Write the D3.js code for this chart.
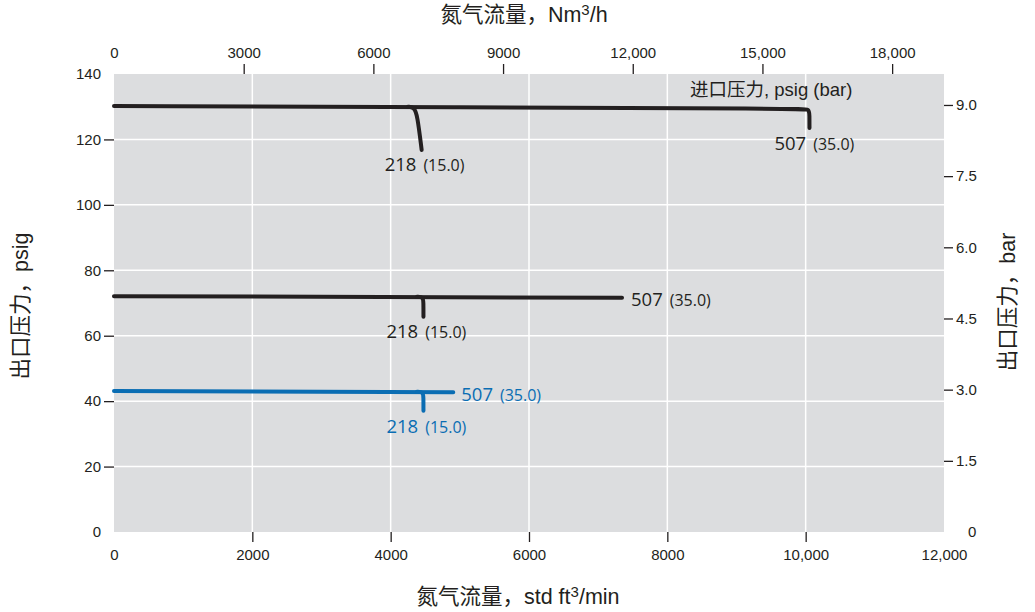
<!DOCTYPE html>
<html><head><meta charset="utf-8">
<script src="https://cdn.jsdelivr.net/npm/d3@7"></script>
<style>
body{margin:0;background:#fff;}
svg{display:block;}
.tick text{font-family:"Liberation Sans",Arial,sans-serif;font-size:15px;fill:#231f20;}
</style></head>
<body>
<svg id="chart" width="1035" height="612"></svg>
<script>
// ---------- data ----------
const xTicksScfm = [0, 2000, 4000, 6000, 8000, 10000, 12000];
const xTicksNm3h = [0, 3000, 6000, 9000, 12000, 15000, 18000];
const yTicksPsig = [0, 20, 40, 60, 80, 100, 120, 140];
const yTicksBar = [0, 1.5, 3.0, 4.5, 6.0, 7.5, 9.0];
const inletPsig = ["218", "507"];
const inletBar = ["(15.0)", "(35.0)"];

// outlet 130 psig setting
const main130 = [[0, 130.2], [5000, 129.9], [9930, 129.35], [10050, 129.3], [10055, 127.5], [10055, 123.5]];
const branch130 = [[4250, 130], [4340, 129.8], [4385, 127.5], [4448, 116.8]];
// outlet 72 psig setting
const main72 = [[0, 72.1], [7345, 71.6]];
const branch72 = [[4380, 71.9], [4468, 71.85], [4474, 70.2], [4474, 65.8]];
// outlet 43 psig setting
const main43 = [[0, 43.1], [4905, 42.75]];
const branch43 = [[4380, 42.85], [4468, 42.8], [4474, 41.3], [4474, 37.1]];

const scfmPerNm3h = 0.625;   // top axis conversion
const psigPerBar = 14.5038;  // right axis conversion

// ---------- layout ----------
const W = 1035, H = 612;
const L = 114, R = 944, T = 74, B = 532;
const black = "#231f20", blue = "#0a6db3", bg = "#dcdddf";

const svg = d3.select("#chart");
const x = d3.scaleLinear().domain([0, 12000]).range([L, R]);
const xTop = d3.scaleLinear().domain([0, 12000 / scfmPerNm3h]).range([L, R]);
const y = d3.scaleLinear().domain([0, 140]).range([B, T]);
const yBar = d3.scaleLinear().domain([0, 140 / psigPerBar]).range([B, T]);

svg.append("rect").attr("x", L).attr("y", T).attr("width", R - L).attr("height", B - T).attr("fill", bg);

// grid
svg.append("g").selectAll("line").data(xTicksScfm.slice(1, -1)).join("line")
  .attr("x1", d => x(d)).attr("x2", d => x(d)).attr("y1", T).attr("y2", B)
  .attr("stroke", "#fff").attr("stroke-width", 1.5);
svg.append("g").selectAll("line").data(yTicksPsig.slice(1, -1)).join("line")
  .attr("y1", d => y(d)).attr("y2", d => y(d)).attr("x1", L).attr("x2", R)
  .attr("stroke", "#fff").attr("stroke-width", 1.5);

const fmt = v => v >= 10000 ? d3.format(",")(v) : String(v);

function styleAxis(g, edgeVals) {
  g.select(".domain").remove();
  g.selectAll(".tick line").attr("stroke", black).attr("stroke-width", 1.3)
    .attr("opacity", d => edgeVals.includes(d) ? 0 : 1);
}

svg.append("g").attr("transform", `translate(0,${B})`)
  .call(d3.axisBottom(x).tickValues(xTicksScfm).tickFormat(fmt).tickSize(10).tickPadding(7))
  .call(g => styleAxis(g, [0, 12000]));
svg.append("g").attr("transform", `translate(0,${T})`)
  .call(d3.axisTop(xTop).tickValues(xTicksNm3h).tickFormat(fmt).tickSize(10).tickPadding(6))
  .call(g => styleAxis(g, [0]));
svg.append("g").attr("transform", `translate(${L},0)`)
  .call(d3.axisLeft(y).tickValues(yTicksPsig).tickSize(10).tickPadding(3))
  .call(g => styleAxis(g, [0, 140]));
svg.append("g").attr("transform", `translate(${R},0)`)
  .call(d3.axisRight(yBar).tickValues(yTicksBar).tickFormat(d => d === 0 ? "0" : d3.format(".1f")(d)).tickSize(9).tickPadding(3))
  .call(g => styleAxis(g, [0]))
  .call(g => g.selectAll(".tick text").attr("dx", d => d === 0 ? 12 : 0));

// curves
const line = d3.line().x(d => x(d[0])).y(d => y(d[1])).curve(d3.curveBasis);
const series = [
  {main: main130, branch: branch130, color: black},
  {main: main72, branch: branch72, color: black},
  {main: main43, branch: branch43, color: blue}
];
series.forEach(s => {
  [s.main, s.branch].forEach(pts => {
    svg.append("path").attr("d", line(pts)).attr("fill", "none")
      .attr("stroke", s.color).attr("stroke-width", 4).attr("stroke-linecap", "round").attr("stroke-linejoin", "round");
  });
});

// inlet pressure labels
const lblFont = '"Open Sans","Noto Sans",sans-serif';
function inletLabel(px, py, i, color) {
  const t = svg.append("text").attr("x", px).attr("y", py).attr("fill", color).attr("font-family", lblFont);
  t.append("tspan").attr("font-size", 18.5).text(inletPsig[i]);
  t.append("tspan").attr("font-size", 16).attr("dx", 7).text(inletBar[i]);
}
const end = pts => pts[pts.length - 1];
const labelOffsets = [
  {lo: [-37, 21], hi: [-35, 22]},
  {lo: [-37, 21], hi: [9, 8]},
  {lo: [-37, 22], hi: [8, 8.5]}
];
series.forEach((s, k) => {
  const b = end(s.branch), m = end(s.main), o = labelOffsets[k];
  inletLabel(x(b[0]) + o.lo[0], y(b[1]) + o.lo[1], 0, s.color);
  inletLabel(x(m[0]) + o.hi[0], y(m[1]) + o.hi[1], 1, s.color);
});

svg.append("text").attr("x", 690).attr("y", 96).attr("fill", black)
  .attr("font-family", '"Liberation Sans","Noto Sans CJK SC",sans-serif').attr("font-size", 18.5)
  .text("进口压力, psig (bar)");

// axis titles
const titleFont = '"Liberation Sans","Noto Sans CJK SC",sans-serif';
function title(xp, yp, rot, parts) {
  const t = svg.append("text").attr("transform", `translate(${xp},${yp}) rotate(${rot})`)
    .attr("text-anchor", "middle").attr("font-family", titleFont).attr("font-size", 21.5).attr("fill", black);
  parts.forEach(p => {
    const ts = t.append("tspan").text(p.t);
    if (p.sup) ts.attr("font-size", 15).attr("dy", -7);
    if (p.after) ts.attr("dy", 7);
  });
}
title(524, 22, 0, [{t: "氮气流量，Nm"}, {t: "3", sup: true}, {t: "/h", after: true}]);
title(518, 604, 0, [{t: "氮气流量，std ft"}, {t: "3", sup: true}, {t: "/min", after: true}]);
title(28, 306, -90, [{t: "出口压力，psig"}]);
title(1015, 302, -90, [{t: "出口压力，bar"}]);
</script>
</body></html>
